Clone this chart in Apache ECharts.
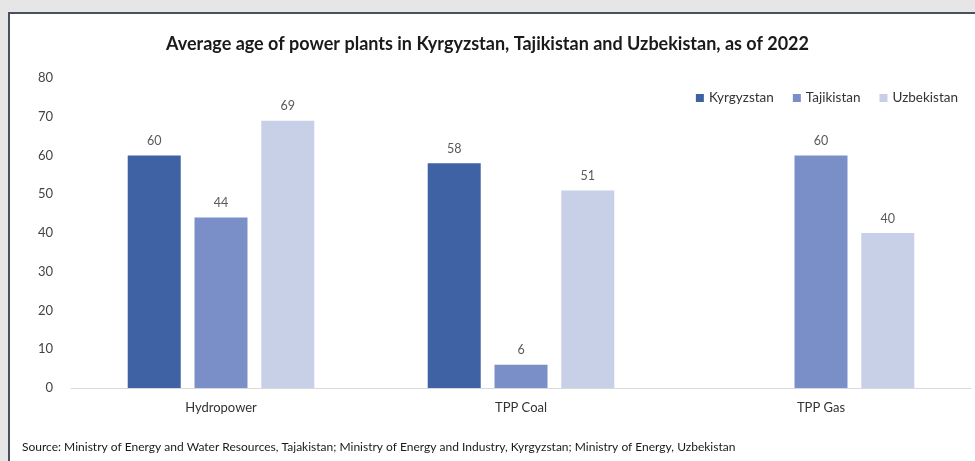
<!DOCTYPE html>
<html>
<head>
<meta charset="utf-8">
<script src="https://cdn.jsdelivr.net/npm/echarts@6/dist/echarts.min.js"></script>
<style>
  html, body { margin: 0; padding: 0; background: #ffffff; }
  #chart { width: 975px; height: 461px; }
</style>
</head>
<body>
<div id="chart"></div>
<script>
// Power plant types on the x axis
const categories = ['Hydropower', 'TPP Coal', 'TPP Gas'];
// Average age in years, per country
const kyrgyzstan = [60, 58, null];
const tajikistan = [44, 6, 60];
const uzbekistan = [69, 51, 40];
const countryNames = ['Kyrgyzstan', 'Tajikistan', 'Uzbekistan'];
const colors = ['#3F62A5', '#7A8FC8', '#C8D0E7'];
const yTicks = { min: 0, max: 80, interval: 10 };

const font = 'Lato, "Open Sans", sans-serif';

const chart = echarts.init(document.getElementById('chart'));

const seriesData = [kyrgyzstan, tajikistan, uzbekistan];

chart.setOption({
  animation: false,
  backgroundColor: '#ffffff',
  color: colors,
  title: {
    text: 'Average age of power plants in Kyrgyzstan, Tajikistan and Uzbekistan, as of 2022',
    left: 'center',
    top: 30,
    textStyle: { fontFamily: font, fontSize: 18, fontWeight: 'bold', color: '#1a1a1a' }
  },
  legend: {
    data: countryNames,
    right: 12,
    top: 86,
    icon: 'rect',
    itemWidth: 8,
    itemHeight: 8,
    itemGap: 19,
    textStyle: { fontFamily: font, fontSize: 13.5, color: '#333333' }
  },
  grid: { left: 71, right: 4, top: 78, bottom: 73, containLabel: false },
  xAxis: {
    type: 'category',
    data: categories,
    axisLine: { lineStyle: { color: '#D9D9D9', width: 1 } },
    axisTick: { show: false },
    axisLabel: { fontFamily: font, fontSize: 13, color: '#333333', margin: 13 }
  },
  yAxis: {
    type: 'value',
    min: yTicks.min,
    max: yTicks.max,
    interval: yTicks.interval,
    splitLine: { show: false },
    axisLine: { show: false },
    axisTick: { show: false },
    axisLabel: { fontFamily: font, fontSize: 13, color: '#444444', margin: 18 }
  },
  series: seriesData.map((d, i) => ({
    name: countryNames[i],
    type: 'bar',
    data: d,
    barWidth: 53,
    barGap: '26%',
    itemStyle: { color: colors[i] },
    label: {
      show: true,
      position: 'top',
      distance: 8,
      fontFamily: font,
      fontSize: 12.5,
      color: '#595959'
    }
  })),
  graphic: [
    { type: 'rect', shape: { x: 0, y: 0, width: 975, height: 12 }, style: { fill: '#E6E6E6' }, silent: true },
    { type: 'rect', shape: { x: 0, y: 0, width: 8, height: 461 }, style: { fill: '#E6E6E6' }, silent: true },
    { type: 'rect', shape: { x: 8, y: 12, width: 967, height: 2 }, style: { fill: '#4A5060' }, silent: true },
    { type: 'rect', shape: { x: 8, y: 12, width: 2, height: 449 }, style: { fill: '#4A5060' }, silent: true },
    {
      type: 'text',
      left: 22,
      top: 441,
      style: {
        text: 'Source: Ministry of Energy and Water Resources, Tajakistan; Ministry of Energy and Industry, Kyrgyzstan; Ministry of Energy, Uzbekistan',
        font: '12px Lato, "Open Sans", sans-serif',
        fill: '#1a1a1a'
      }
    }
  ]
});
</script>
</body>
</html>
